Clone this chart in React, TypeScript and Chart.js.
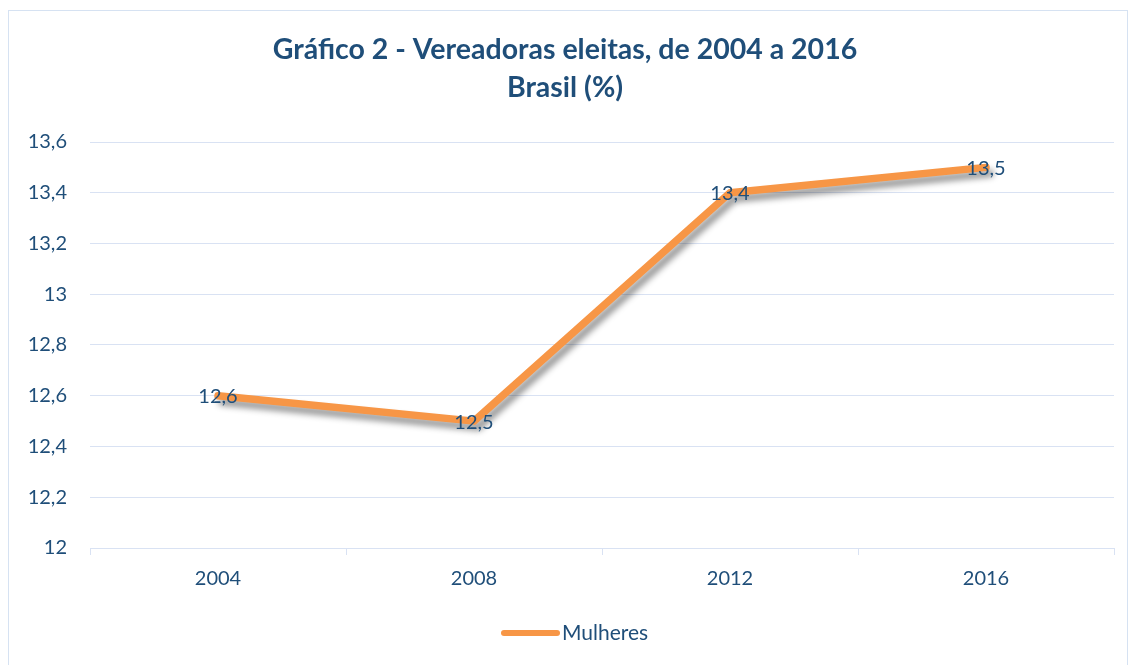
import React, { useEffect, useRef } from "react";
import { Chart, registerables } from "chart.js";

Chart.register(...registerables);

const categories = ["2004", "2008", "2012", "2016"];
const mulheres = [12.6, 12.5, 13.4, 13.5];
const seriesName = "Mulheres";
const titleLines = ["Gráfico 2 - Vereadoras eleitas, de 2004 a 2016", "Brasil (%)"];
const yMin = 12;
const yMax = 13.6;
const yStep = 0.2;

const FONT = "Lato, 'Open Sans', sans-serif";
const BLUE = "#1F4E79";
const ORANGE = "#F79646";
const GRID = "#D9E2F3";

const fmt = (v: number) => String(Math.round(v * 10) / 10).replace(".", ",");

export default function App() {
  const ref = useRef<HTMLCanvasElement | null>(null);
  useEffect(() => {
    if (!ref.current) return;
    const shadowPlugin = {
      id: "shadow",
      beforeDatasetDraw(chart: any) {
        const ctx = chart.ctx;
        ctx.save();
        ctx.shadowColor = "rgba(0,0,0,0.42)";
        ctx.shadowOffsetX = 4;
        ctx.shadowOffsetY = 6;
        ctx.shadowBlur = 6;
      },
      afterDatasetDraw(chart: any) {
        chart.ctx.restore();
      },
    };
    const extrasPlugin = {
      id: "extras",
      afterDraw(chart: any) {
        const ctx = chart.ctx;
        ctx.save();
        // title
        ctx.fillStyle = BLUE;
        ctx.textAlign = "center";
        ctx.textBaseline = "middle";
        ctx.font = `bold 28.5px ${FONT}`;
        ctx.fillText(titleLines[0], 556, 39);
        ctx.fillText(titleLines[1], 556, 77);
        // data labels
        ctx.font = `20px ${FONT}`;
        const meta = chart.getDatasetMeta(0);
        meta.data.forEach((pt: any, i: number) => {
          ctx.fillText(fmt(mulheres[i]), pt.x, pt.y + 1);
        });
        // legend
        ctx.strokeStyle = ORANGE;
        ctx.lineWidth = 6;
        ctx.lineCap = "round";
        ctx.beginPath();
        ctx.moveTo(495, 622);
        ctx.lineTo(548, 622);
        ctx.stroke();
        ctx.textAlign = "left";
        ctx.font = `21px ${FONT}`;
        ctx.fillText(seriesName, 553, 622);
        ctx.restore();
      },
    };
    const chart = new Chart(ref.current, {
      type: "line",
      data: {
        labels: categories,
        datasets: [
          {
            label: seriesName,
            data: mulheres,
            borderColor: ORANGE,
            backgroundColor: ORANGE,
            borderWidth: 7.5,
            pointRadius: 0,
            tension: 0,
            borderJoinStyle: "round",
            borderCapStyle: "round",
          },
        ],
      },
      options: {
        responsive: false,
        animation: false,
        layout: { padding: { top: 131, right: 13, left: 0, bottom: 0 } },
        plugins: { legend: { display: false }, title: { display: false }, tooltip: { enabled: false } },
        scales: {
          x: {
            offset: true,
            grid: { offset: true, drawOnChartArea: false, drawTicks: true, tickLength: 7, color: GRID, lineWidth: 1 },
            border: { display: true, color: GRID, width: 1 },
            ticks: { color: BLUE, font: { family: FONT, size: 20 }, padding: 12 },
            afterFit: (s: any) => {
              s.height = 121;
            },
          },
          y: {
            min: yMin,
            max: yMax,
            grid: { color: GRID, lineWidth: 1, drawTicks: false },
            border: { display: false },
            ticks: {
              stepSize: yStep,
              color: BLUE,
              font: { family: FONT, size: 20 },
              padding: 23,
              callback: (v: any) => fmt(Number(v)),
            },
            afterFit: (s: any) => {
              s.width = 81;
            },
          },
        },
      },
      plugins: [shadowPlugin, extrasPlugin],
    });
    return () => chart.destroy();
  }, []);
  return (
    <div
      style={{
        position: "fixed",
        left: 8,
        top: 10,
        width: 1120,
        height: 660,
        boxSizing: "border-box",
        border: "1px solid #D6E2F2",
        background: "#fff",
      }}
    >
      <canvas ref={ref} width={1118} height={658} style={{ display: "block" }} />
    </div>
  );
}
